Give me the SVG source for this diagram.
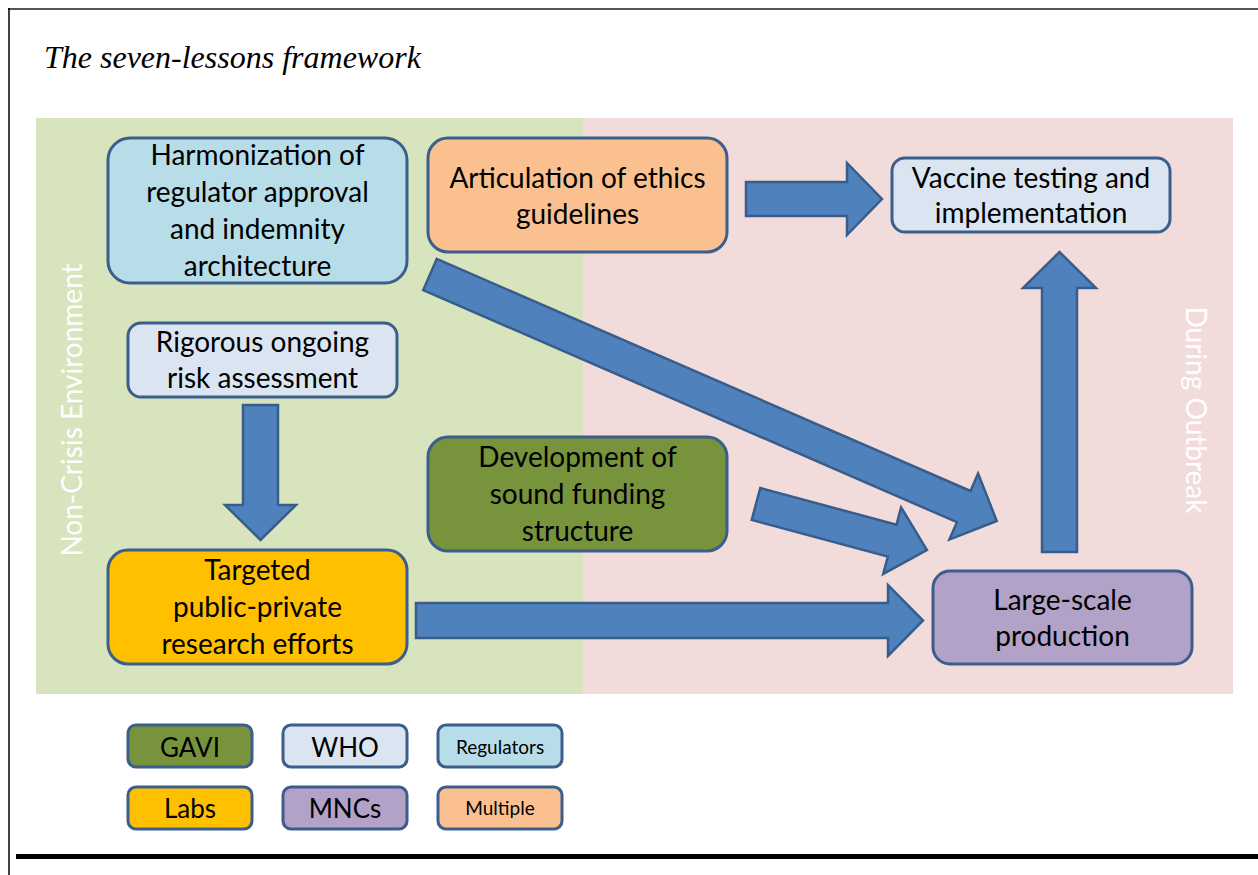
<svg xmlns="http://www.w3.org/2000/svg" width="1258" height="875" viewBox="0 0 1258 875">
<style>
.node{stroke:#3b5e8c;stroke-width:3}
.t{font-family:Lato,"Open Sans","DejaVu Sans",sans-serif;font-size:28px;fill:#000;text-anchor:middle}
.tl{font-family:Lato,"Open Sans","DejaVu Sans",sans-serif;font-size:26px;fill:#000;text-anchor:middle}
.ts{font-family:Lato,"Open Sans","DejaVu Sans",sans-serif;font-size:19px;fill:#000;text-anchor:middle}
.side{font-family:Lato,"Open Sans","DejaVu Sans",sans-serif;font-size:28px;fill:#ffffff;text-anchor:middle}
.arr{fill:#4f81bd;stroke:#385d8a;stroke-width:2.5;stroke-linejoin:miter}
</style>
<rect x="0" y="0" width="1258" height="875" fill="#ffffff"/>
<g id="frame">
<line x1="8" y1="9" x2="1258" y2="9" stroke="#555555" stroke-width="2"/>
<line x1="9" y1="8" x2="9" y2="875" stroke="#000000" stroke-width="1.5"/>
<rect x="16" y="854" width="1242" height="5" fill="#000000"/>
<text x="44" y="68" font-family="'Liberation Serif','Times New Roman',serif" font-style="italic" font-size="32" fill="#000">The seven-lessons framework</text>
</g>
<g id="backgrounds">
<rect x="36" y="118" width="547" height="576" fill="#d7e4bd"/>
<rect x="583" y="118" width="650" height="576" fill="#f2dcdb"/>
<text class="side" transform="translate(82,410) rotate(-90)">Non-Crisis Environment</text>
<text class="side" transform="translate(1186,410) rotate(90)">During Outbreak</text>
</g>
<g id="connectors">
<path class="arr" d="M243,405 H278 V505 H296 L260.5,540 L225,505 H243 Z"/>
<path class="arr" d="M746,182 H847 V163 L882,199 L847,235 V216 H746 Z"/>
<path class="arr" d="M416,603 H888 V585 L923,620.5 L888,656 V638 H416 Z"/>
<path class="arr" d="M1042,552 V288 H1023 L1059.5,252 L1096,288 H1077 V552 Z"/>
<path class="arr" d="M0,-17 H582 V-36 L618,0 L582,36 V17 H0 Z" transform="translate(430,274.5) rotate(23.5)"/>
<path class="arr" d="M0,-16.5 H141 V-34.5 L177,0 L141,34.5 V16.5 H0 Z" transform="translate(756,504) rotate(15.06)"/>
</g>
<g id="harmonization">
<rect class="node" x="108" y="138" width="299" height="145" rx="22" fill="#b7dde8"/>
<text class="t" x="257.5" y="165">Harmonization of</text>
<text class="t" x="257.5" y="202">regulator approval</text>
<text class="t" x="257.5" y="239">and indemnity</text>
<text class="t" x="257.5" y="276">architecture</text>
</g>
<g id="ethics">
<rect class="node" x="428" y="138" width="299" height="114" rx="20" fill="#fac090"/>
<text class="t" x="577.5" y="188">Articulation of ethics</text>
<text class="t" x="577.5" y="224">guidelines</text>
</g>
<g id="vaccine">
<rect class="node" x="892" y="158" width="278" height="74" rx="13" fill="#dbe5f1"/>
<text class="t" x="1031" y="188">Vaccine testing and</text>
<text class="t" x="1031" y="223">implementation</text>
</g>
<g id="risk">
<rect class="node" x="128" y="323" width="269" height="74" rx="13" fill="#dbe5f1"/>
<text class="t" x="262.5" y="352">Rigorous ongoing</text>
<text class="t" x="262.5" y="388">risk assessment</text>
</g>
<g id="funding">
<rect class="node" x="428" y="437" width="299" height="114" rx="20" fill="#77933c"/>
<text class="t" x="577.5" y="467">Development of</text>
<text class="t" x="577.5" y="504">sound funding</text>
<text class="t" x="577.5" y="541">structure</text>
</g>
<g id="research">
<rect class="node" x="108" y="550" width="299" height="114" rx="20" fill="#ffc000"/>
<text class="t" x="257.5" y="580">Targeted</text>
<text class="t" x="257.5" y="617">public-private</text>
<text class="t" x="257.5" y="654">research efforts</text>
</g>
<g id="production">
<rect class="node" x="933" y="571" width="259" height="93" rx="17" fill="#b2a2c7"/>
<text class="t" x="1062.5" y="610">Large-scale</text>
<text class="t" x="1062.5" y="646">production</text>
</g>
<g id="legend">
<g id="legend-gavi"><rect class="node" x="128" y="725" width="124" height="42" rx="8" fill="#77933c"/><text class="tl" x="190" y="757">GAVI</text></g>
<g id="legend-who"><rect class="node" x="283" y="725" width="124" height="42" rx="8" fill="#dbe5f1"/><text class="tl" x="345" y="757">WHO</text></g>
<g id="legend-regulators"><rect class="node" x="438" y="725" width="124" height="42" rx="8" fill="#b7dde8"/><text class="ts" x="500" y="754">Regulators</text></g>
<g id="legend-labs"><rect class="node" x="128" y="787" width="124" height="42" rx="8" fill="#ffc000"/><text class="tl" x="190" y="818">Labs</text></g>
<g id="legend-mncs"><rect class="node" x="283" y="787" width="124" height="42" rx="8" fill="#b2a2c7"/><text class="tl" x="345" y="818">MNCs</text></g>
<g id="legend-multiple"><rect class="node" x="438" y="787" width="124" height="42" rx="8" fill="#fac090"/><text class="ts" x="500" y="815">Multiple</text></g>
</g>
</svg>
